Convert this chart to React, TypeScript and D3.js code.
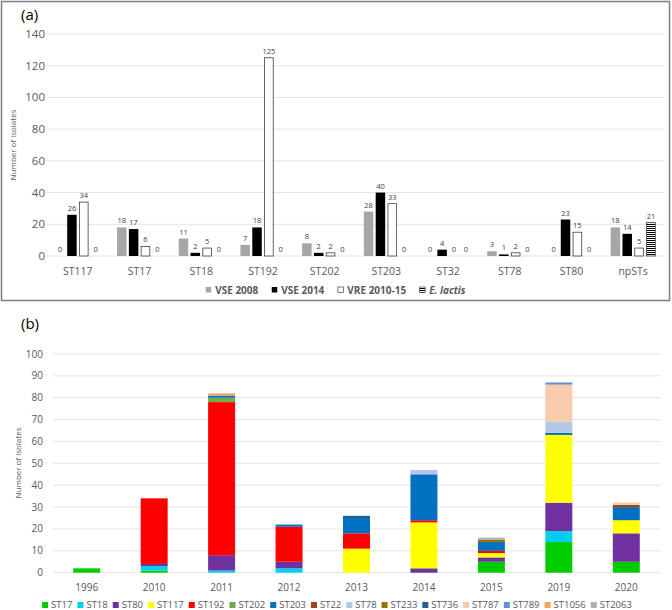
import React from 'react';
import * as d3 from 'd3';

// ---------- Panel (a) data ----------
const catsA = ['ST117', 'ST17', 'ST18', 'ST192', 'ST202', 'ST203', 'ST32', 'ST78', 'ST80', 'npSTs'];
const vse2008 = [0, 18, 11, 7, 8, 28, 0, 3, 0, 18];
const vse2014 = [26, 17, 2, 18, 2, 40, 4, 1, 23, 14];
const vre201015 = [34, 6, 5, 125, 2, 33, 0, 2, 15, 5];
const eLactis = [0, 0, 0, 0, 0, 0, 0, 0, 0, 21];
const seriesA = ['VSE 2008', 'VSE 2014', 'VRE 2010-15', 'E. lactis'];
const ticksA = [0, 20, 40, 60, 80, 100, 120, 140];

// ---------- Panel (b) data ----------
const years = ['1996', '2010', '2011', '2012', '2013', '2014', '2015', '2019', '2020'];
const stNames = ['ST17', 'ST18', 'ST80', 'ST117', 'ST192', 'ST202', 'ST203', 'ST22', 'ST78', 'ST233', 'ST736', 'ST787', 'ST789', 'ST1056', 'ST2063'];
const st17 = [2, 1, 0, 0, 0, 0, 5, 14, 5];
const st18 = [0, 2, 1, 2, 0, 0, 0, 5, 0];
const st80 = [0, 1, 7, 3, 0, 2, 2, 13, 13];
const st117 = [0, 0, 0, 0, 11, 21, 2, 31, 6];
const st192 = [0, 30, 70, 16, 7, 1, 1, 0, 0];
const st202 = [0, 0, 2, 0, 0, 0, 0, 0, 0];
const st203 = [0, 0, 1, 1, 7, 21, 4, 1, 6];
const st22 = [0, 0, 0, 0, 0, 0, 0, 0, 1];
const st78 = [0, 0, 0, 0, 0, 2, 0, 5, 0];
const st233 = [0, 0, 0, 0, 0, 0, 1, 0, 0];
const st736 = [0, 0, 0, 0, 1, 0, 0, 0, 0];
const st787 = [0, 0, 0, 0, 0, 0, 0, 17, 1];
const st789 = [0, 0, 0, 0, 0, 0, 0, 1, 0];
const st1056 = [0, 0, 1, 0, 0, 0, 0, 0, 0];
const st2063 = [0, 0, 0, 0, 0, 0, 1, 0, 0];
const stColors = ['#00cc00', '#00d0f0', '#7030a0', '#ffff00', '#ff0000', '#70ad47', '#0070c0', '#9e480e', '#b4c7e7', '#997300', '#255e91', '#f8cbad', '#698ed0', '#f4a460', '#b0b0b0'];
const ticksB = [0, 10, 20, 30, 40, 50, 60, 70, 80, 90, 100];

const FONT = '"Open Sans", sans-serif';

let measureCtx: CanvasRenderingContext2D | null = null;
function textWidth(s: string, font: string): number {
  if (!measureCtx) measureCtx = document.createElement('canvas').getContext('2d');
  if (!measureCtx) return s.length * 6;
  measureCtx.font = font;
  return measureCtx.measureText(s).width;
}

export default function App() {
  // ---------- scales (a) ----------
  const seriesValsA = [vse2008, vse2014, vre201015, eLactis];
  const xA = d3.scaleBand<string>().domain(catsA).range([47, 664]).paddingInner(0.27).paddingOuter(0.135);
  const xA1 = d3.scaleBand<string>().domain(seriesA).range([0, xA.bandwidth()]).paddingInner(0.2);
  const yA = d3.scaleLinear().domain([0, 140]).range([256, 34]);
  const fillA = ['#a6a6a6', '#000000', '#ffffff', 'url(#stripes)'];
  const strokeA = ['none', 'none', '#404040', '#404040'];

  // legend (a)
  const legFontA = `bold 10px "Open Sans"`;
  const legItemsA = seriesA.map((s) => ({ s, w: textWidth(s, legFontA) }));
  const totalA = legItemsA.reduce((acc, it) => acc + 6 + 4 + it.w, 0) + 13 * (legItemsA.length - 1);
  let cursorA = 336 - totalA / 2;
  const legPosA = legItemsA.map((it) => {
    const x = cursorA;
    cursorA += 6 + 4 + it.w + 13;
    return { ...it, x };
  });

  // ---------- scales (b) ----------
  const stSeries = [st17, st18, st80, st117, st192, st202, st203, st22, st78, st233, st736, st787, st789, st1056, st2063];
  const table = years.map((y, i) => {
    const row: Record<string, any> = { year: y };
    stNames.forEach((n, k) => (row[n] = stSeries[k][i]));
    return row;
  });
  const stacked = d3.stack<any>().keys(stNames)(table);
  const xB = d3.scaleBand<string>().domain(years).range([53, 660]).paddingInner(0.6).paddingOuter(0.3);
  const yB = d3.scaleLinear().domain([0, 100]).range([572.7, 354]);

  const legFontB = `9.5px "Open Sans"`;
  const legItemsB = stNames.map((s, i) => ({ s, c: stColors[i], w: textWidth(s, legFontB) }));
  const totalB = legItemsB.reduce((acc, it) => acc + 6 + 3 + it.w, 0) + 5 * (legItemsB.length - 1);
  let cursorB = 337 - totalB / 2;
  const legPosB = legItemsB.map((it) => {
    const x = cursorB;
    cursorB += 6 + 3 + it.w + 5;
    return { ...it, x };
  });

  return (
    <svg width={672} height={610} style={{ position: 'absolute', left: 0, top: 0, background: '#fff' }} fontFamily={FONT}>
      <defs>
        <pattern id="stripes" width={4} height={2} patternUnits="userSpaceOnUse">
          <rect width={4} height={2} fill="#ffffff" />
          <rect width={4} height={1} fill="#000000" />
        </pattern>
      </defs>
      <rect x={0} y={0} width={672} height={610} fill="#ffffff" />

      {/* ================= Panel (a) ================= */}
      <rect x={1.5} y={1.5} width={668} height={299} fill="none" stroke="#808080" strokeWidth={1.5} />
      <text x={21} y={20} fontSize={15} fill="#000">(a)</text>
      {ticksA.map((t) => (
        <g key={'ga' + t}>
          <line x1={47} x2={664} y1={yA(t)} y2={yA(t)} stroke="#e3e3e3" strokeWidth={1} />
          <text x={45} y={yA(t)} dy="0.35em" textAnchor="end" fontSize={11.5} fill="#595959">{t}</text>
        </g>
      ))}
      <text transform={`translate(13,145) rotate(-90)`} textAnchor="middle" dy="0.35em" fontSize={8} fill="#595959">Number of isolates</text>
      {catsA.map((c, ci) => (
        <g key={'ca' + c} transform={`translate(${xA(c)},0)`}>
          {seriesA.map((s, si) => {
            const v = seriesValsA[si][ci];
            const bx = xA1(s) as number;
            const bw = xA1.bandwidth();
            return (
              <g key={s}>
                {v > 0 && (
                  <rect x={bx + (strokeA[si] !== 'none' ? 0.4 : 0)} y={yA(v)} width={bw - (strokeA[si] !== 'none' ? 0.8 : 0)} height={yA(0) - yA(v)} fill={fillA[si]} stroke={strokeA[si]} strokeWidth={0.8} />
                )}
                <text x={bx + bw / 2} y={yA(v) - 4} textAnchor="middle" fontSize={7.5} fill="#404040">{v}</text>
              </g>
            );
          })}
          <text x={xA.bandwidth() / 2} y={271} dy="0.35em" textAnchor="middle" fontSize={10.5} fill="#595959">{c}</text>
        </g>
      ))}
      {legPosA.map((it, i) => (
        <g key={'la' + it.s}>
          <rect x={it.x + 0.5} y={287} width={5.5} height={5.5} fill={fillA[i]} stroke={i >= 2 ? '#404040' : 'none'} strokeWidth={0.7} />
          <text x={it.x + 10} y={290} dy="0.35em" fontSize={10} fontWeight="bold" fill="#595959" fontStyle={i === 3 ? 'italic' : 'normal'}>{it.s}</text>
        </g>
      ))}

      {/* ================= Panel (b) ================= */}
      <text x={21} y={329} fontSize={15} fill="#000">(b)</text>
      {ticksB.map((t) => (
        <g key={'gb' + t}>
          <line x1={53} x2={660} y1={yB(t)} y2={yB(t)} stroke="#e3e3e3" strokeWidth={1} />
          <text x={43} y={yB(t)} dy="0.35em" textAnchor="end" fontSize={10} fill="#595959">{t}</text>
        </g>
      ))}
      <text transform={`translate(18,463) rotate(-90)`} textAnchor="middle" dy="0.35em" fontSize={8} fill="#595959">Number of isolates</text>
      {stacked.map((layer, li) => (
        <g key={'sb' + layer.key} fill={stColors[li]}>
          {layer.map((d, di) => {
            const h = yB(d[0]) - yB(d[1]);
            if (h <= 0) return null;
            return <rect key={di} x={xB(years[di]) as number} y={yB(d[1])} width={xB.bandwidth()} height={h} />;
          })}
        </g>
      ))}
      {years.map((y) => (
        <text key={'yb' + y} x={(xB(y) as number) + xB.bandwidth() / 2} y={587} dy="0.35em" textAnchor="middle" fontSize={10} fill="#595959">{y}</text>
      ))}
      {legPosB.map((it) => (
        <g key={'lb' + it.s}>
          <rect x={it.x} y={602} width={6} height={6} fill={it.c} />
          <text x={it.x + 9} y={605} dy="0.35em" fontSize={9.5} fill="#595959">{it.s}</text>
        </g>
      ))}
    </svg>
  );
}
